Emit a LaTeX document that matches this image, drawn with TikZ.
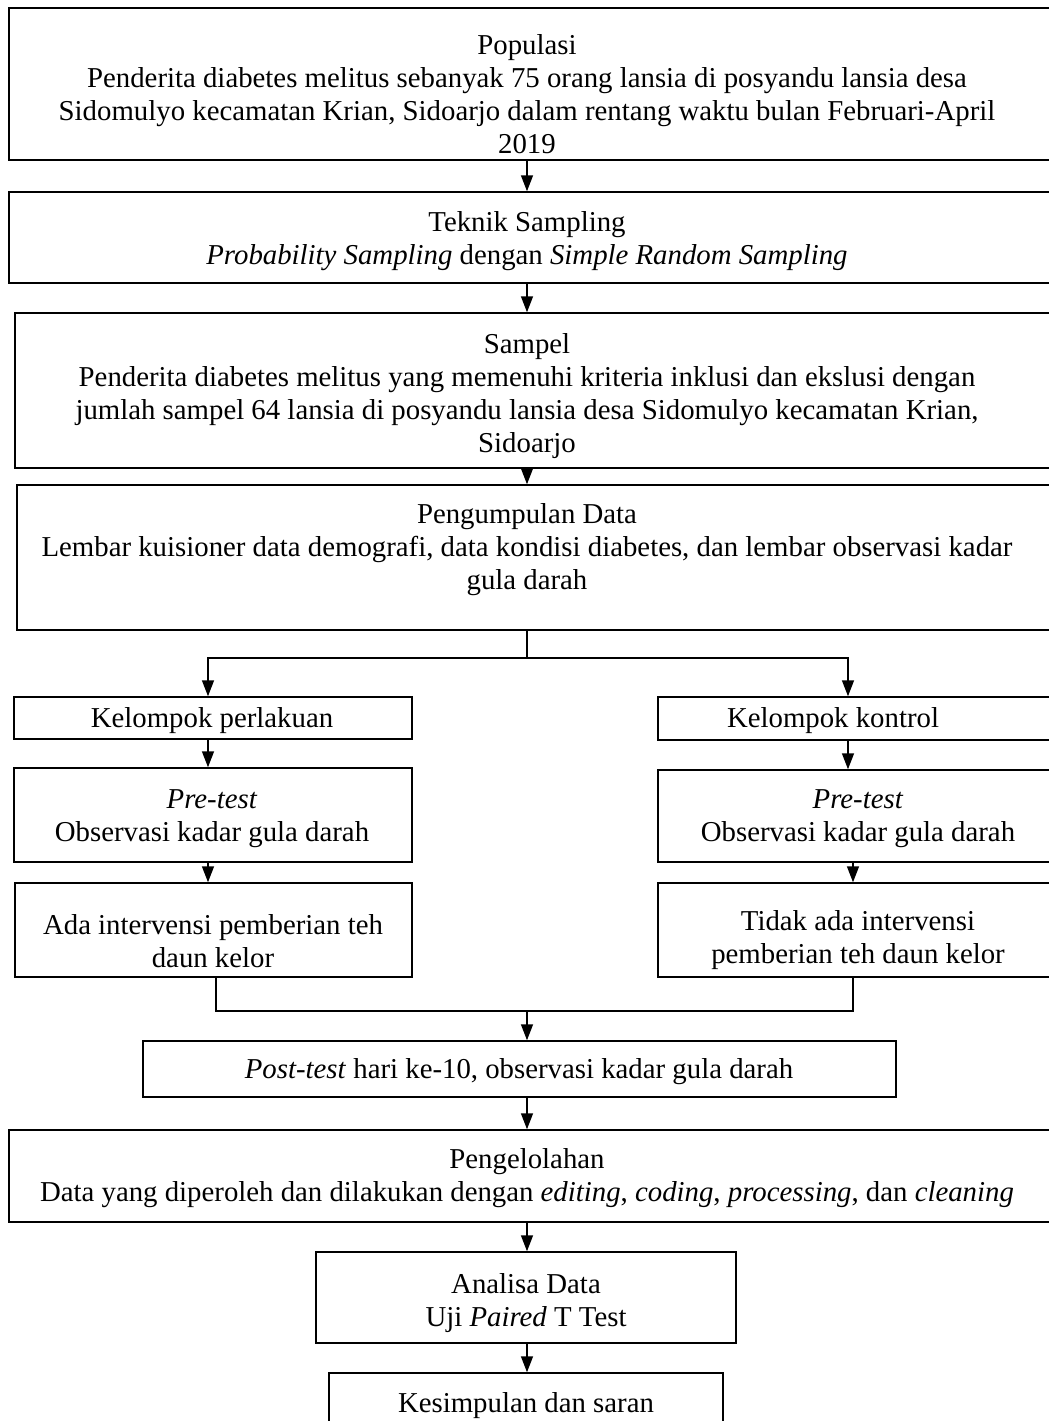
\documentclass[tikz,border=0pt]{standalone}
\usepackage{fontspec}
\setmainfont{Liberation Serif}
\usetikzlibrary{arrows.meta, positioning, fit}

\begin{document}
\begin{tikzpicture} [
    x=0.5pt, y=-0.5pt,
   box/.style = {draw, line width=0.75pt, inner sep=0pt},
   txt/.style = {align=center, inner sep=0pt, font=\fontsize{14.4}{16.5}\selectfont},
   arr/.style = {draw, line width=0.75pt, -{Triangle[length=8pt, width=6pt]}}
]
  \useasboundingbox (0,0) rectangle (1049,1421);
  \clip (0,0) rectangle (1049,1421);

  % Columns of the connectors
  \coordinate (mid)  at (527,0);
  \coordinate (lcol) at (208,0);
  \coordinate (rcol) at (848,0);
  \coordinate (lbot) at (216,0);
  \coordinate (rbot) at (853,0);

  % Boxes
  \node[box, fit={(9,8) (1060,160)}]      (pop)       {};
  \node[box, fit={(9,192) (1060,283)}]    (teknik)    {};
  \node[box, fit={(15,313) (1060,468)}]   (sampel)    {};
  \node[box, fit={(17,485) (1060,630)}]   (data)      {};
  \node[box, fit={(14,697) (412,739)}]    (perlakuan) {};
  \node[box, fit={(658,697) (1060,740)}]  (kontrol)   {};
  \node[box, fit={(14,768) (412,862)}]    (prel)      {};
  \node[box, fit={(658,770) (1060,862)}]  (prer)      {};
  \node[box, fit={(15,883) (412,977)}]    (ada)       {};
  \node[box, fit={(658,883) (1060,977)}]  (tidak)     {};
  \node[box, fit={(143,1041) (896,1097)}] (post)      {};
  \node[box, fit={(9,1130) (1060,1222)}]  (olah)      {};
  \node[box, fit={(316,1252) (736,1343)}] (analisa)   {};
  \node[box, fit={(329,1373) (723,1440)}] (simpul)    {};

  % Texts
  \node[txt] (popT) at (527,94) {Populasi\\Penderita diabetes melitus sebanyak 75 orang lansia di posyandu lansia desa\\Sidomulyo kecamatan Krian, Sidoarjo dalam rentang waktu bulan Februari-April\\2019};
  \node[txt] (teknikT) at (527,241) {Teknik Sampling\\\textit{Probability Sampling} dengan \textit{Simple Random Sampling}};
  \node[txt] (sampelT) at (527,396) {Sampel\\Penderita diabetes melitus yang memenuhi kriteria inklusi dan ekslusi dengan\\jumlah sampel 64 lansia di posyandu lansia desa Sidomulyo kecamatan Krian,\\Sidoarjo};
  \node[txt] (dataT) at (527,550) {Pengumpulan Data\\Lembar kuisioner data demografi, data kondisi diabetes, dan lembar observasi kadar\\gula darah};
  \node[txt] (perlakuanT) at (212,721) {Kelompok perlakuan};
  \node[txt] (kontrolT) at (833,721) {Kelompok kontrol};
  \node[txt] (prelT) at (212,819) {\textit{Pre-test}\\Observasi kadar gula darah};
  \node[txt] (prerT) at (858,819) {\textit{Pre-test}\\Observasi kadar gula darah};
  \node[txt] (adaT) at (213,941) {Ada intervensi pemberian teh\\daun kelor};
  \node[txt] (tidakT) at (858,940) {Tidak ada intervensi\\pemberian teh daun kelor};
  \node[txt] (postT) at (519,1072) {\textit{Post-test} hari ke-10, observasi kadar gula darah};
  \node[txt] (olahT) at (527,1178) {Pengelolahan\\Data yang diperoleh dan dilakukan dengan \textit{editing}, \textit{coding}, \textit{processing}, dan \textit{cleaning}};
  \node[txt] (analisaT) at (526,1303) {Analisa Data\\Uji \textit{Paired} T Test};
  \node[txt] (simpulT) at (526,1406) {Kesimpulan dan saran};

  % Connectors
  \draw[arr] (pop.south -| mid) -- (teknik.north -| mid);
  \draw[arr] (teknik.south -| mid) -- (sampel.north -| mid);
  \draw[arr] (sampel.south -| mid) -- (data.north -| mid);

  \coordinate (split) at (527,658);
  \draw[line width=0.75pt] (data.south -| mid) -- (split);
  \draw[arr] (split) -| (perlakuan.north -| lcol);
  \draw[arr] (split) -| (kontrol.north -| rcol);

  \draw[arr] (perlakuan.south -| lcol) -- (prel.north -| lcol);
  \draw[arr] (prel.south -| lcol) -- (ada.north -| lcol);
  \draw[arr] (kontrol.south -| rcol) -- (prer.north -| rcol);
  \draw[arr] (prer.south -| rbot) -- (tidak.north -| rbot);

  \coordinate (join) at (527,1011);
  \draw[line width=0.75pt] (ada.south -| lbot) |- (join) -| (tidak.south -| rbot);
  \draw[arr] (join) -- (post.north -| mid);

  \draw[arr] (post.south -| mid) -- (olah.north -| mid);
  \draw[arr] (olah.south -| mid) -- (analisa.north -| mid);
  \draw[arr] (analisa.south -| mid) -- (simpul.north -| mid);

\end{tikzpicture}
\end{document}
